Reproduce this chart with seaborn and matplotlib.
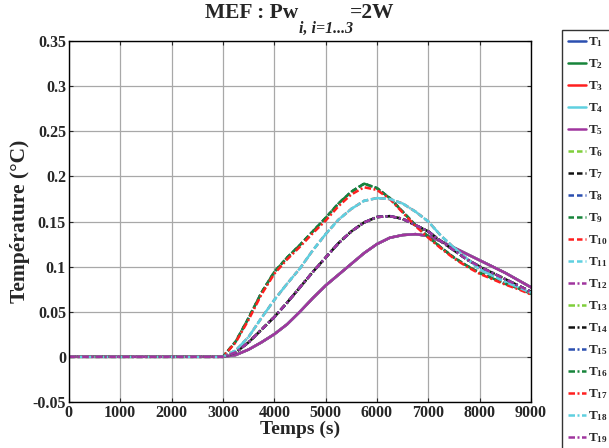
import numpy as np
import pandas as pd
import seaborn as sns
import matplotlib.pyplot as plt

# --- Données ---
temps = [0, 3000, 3250, 3500, 3750, 4000, 4250, 4500, 4750, 5000, 5250, 5500, 5750,
         6000, 6250, 6500, 6750, 7000, 7250, 7500, 7750, 8000, 8250, 8500, 8750, 9000]

# courbes pleines (T1..T5)
profil_a = [0, 0, 0.002, 0.008, 0.016, 0.025, 0.036, 0.050, 0.065, 0.079, 0.091, 0.103, 0.115,
            0.125, 0.132, 0.135, 0.136, 0.134, 0.128, 0.121, 0.114, 0.107, 0.100, 0.093, 0.085, 0.077]
# groupe ~0.155
profil_b = [0, 0, 0.005, 0.016, 0.030, 0.044, 0.060, 0.077, 0.094, 0.110, 0.126, 0.139, 0.149,
            0.155, 0.156, 0.153, 0.146, 0.139, 0.128, 0.118, 0.108, 0.100, 0.093, 0.086, 0.079, 0.072]
# groupe ~0.175
profil_c = [0, 0, 0.007, 0.022, 0.043, 0.063, 0.081, 0.098, 0.118, 0.136, 0.152, 0.164, 0.173,
            0.176, 0.175, 0.170, 0.161, 0.150, 0.134, 0.121, 0.109, 0.097, 0.090, 0.083, 0.077, 0.071]
# groupe ~0.19
profil_d = [0, 0, 0.017, 0.043, 0.071, 0.094, 0.110, 0.124, 0.139, 0.154, 0.170, 0.183, 0.192,
            0.187, 0.176, 0.161, 0.146, 0.133, 0.121, 0.110, 0.101, 0.093, 0.087, 0.081, 0.076, 0.070]
profil_d2 = [0, 0, 0.016, 0.041, 0.069, 0.092, 0.108, 0.122, 0.137, 0.151, 0.167, 0.180, 0.188,
             0.185, 0.175, 0.160, 0.145, 0.132, 0.120, 0.109, 0.100, 0.092, 0.086, 0.080, 0.075, 0.069]

noms = ['T%d' % i for i in range(1, 20)]
profils = {'T1': profil_a, 'T2': profil_a, 'T3': profil_a, 'T4': profil_a, 'T5': profil_a,
           'T6': profil_b, 'T7': profil_b, 'T8': profil_d, 'T9': profil_d, 'T10': profil_c,
           'T11': profil_c, 'T12': profil_b, 'T13': profil_b, 'T14': profil_b, 'T15': profil_b,
           'T16': profil_d, 'T17': profil_d2, 'T18': profil_c, 'T19': profil_b}

bleu, vert, rouge, cyan, mauve = '#2b4fb0', '#17843a', '#ff1f1f', '#5fd0e0', '#a0359e'
vert_clair, noir = '#7fcf3a', '#111111'
couleurs = [bleu, vert, rouge, cyan, mauve,
            vert_clair, noir, bleu, vert, rouge, cyan,
            mauve, vert_clair, noir, bleu, vert, rouge, cyan, mauve]
tiret = (0, (2.2, 1.2))
tiret_point = (0, (2.6, 1.0, 0.8, 1.0))
styles = ['-'] * 5 + [tiret] * 6 + [tiret_point] * 8

sns.set_style("ticks")
plt.rcParams['font.family'] = ['Liberation Serif', 'DejaVu Serif']
plt.rcParams['mathtext.fontset'] = 'custom'
plt.rcParams['mathtext.rm'] = 'Liberation Serif:bold'
plt.rcParams['mathtext.it'] = 'Liberation Serif:italic:bold'

fig = plt.figure(figsize=(6.09, 4.48), dpi=100)
ax = fig.add_axes([0.113, 0.103, 0.759, 0.805])

for nom, c, st in zip(noms, couleurs, styles):
    df = pd.DataFrame({'t': temps, 'T': profils[nom]})
    sns.lineplot(data=df, x='t', y='T', color=c, linewidth=1.8, linestyle=st, ax=ax,
                 label='T$_{%s}$' % nom[1:])

ax.set_xlim(0, 9000)
ax.set_ylim(-0.05, 0.35)
ax.set_xticks(np.arange(0, 9001, 1000))
ax.set_yticks(np.arange(-0.05, 0.351, 0.05))
ax.set_yticklabels(['-0.05', '0', '0.05', '0.1', '0.15', '0.2', '0.25', '0.3', '0.35'])
ax.grid(True, color='#a8a8a8', linewidth=0.9)
ax.tick_params(direction='in', top=True, right=True, length=3, labelsize=11.5, pad=2)
for lab in ax.get_xticklabels() + ax.get_yticklabels():
    lab.set_fontweight('bold')
for s in ax.spines.values():
    s.set_color('black')
    s.set_linewidth(1.0)

ax.set_xlabel('Temps (s)', fontsize=14, fontweight='bold', labelpad=0)
ax.set_ylabel('Température (°C)', fontsize=15.5, fontweight='bold', labelpad=2)

# titre en trois morceaux : texte, indice en italique, suite
W, H = fig.bbox.width, fig.bbox.height
t1 = fig.text(0, 1 - 18 / H, 'MEF : Pw', fontsize=15.5, fontweight='bold', va='baseline')
t2 = fig.text(0, 1 - 33 / H, 'i, i=1...3', fontsize=11.5, fontweight='bold',
              fontstyle='italic', va='baseline')
t3 = fig.text(0, 1 - 18 / H, '=2W', fontsize=15.5, fontweight='bold', va='baseline')
fig.canvas.draw()
r = fig.canvas.get_renderer()
l1, l2, l3 = [t.get_window_extent(r).width for t in (t1, t2, t3)]
x0 = (0.113 + 0.759 / 2) * W - (l1 + l2 + l3 - 3) / 2
t1.set_x(x0 / W)
t2.set_x((x0 + l1) / W)
t3.set_x((x0 + l1 + l2 - 3) / W)

leg = ax.legend(loc='upper left', bbox_to_anchor=(1.068, 1.03), frameon=True,
                fancybox=False, edgecolor='black', handlelength=1.35, handletextpad=0.2,
                labelspacing=0.62, borderpad=0.4, borderaxespad=0,
                prop={'weight': 'bold', 'size': 9.5})
leg.get_frame().set_linewidth(1.0)

fig.savefig('out.png', dpi=100)
